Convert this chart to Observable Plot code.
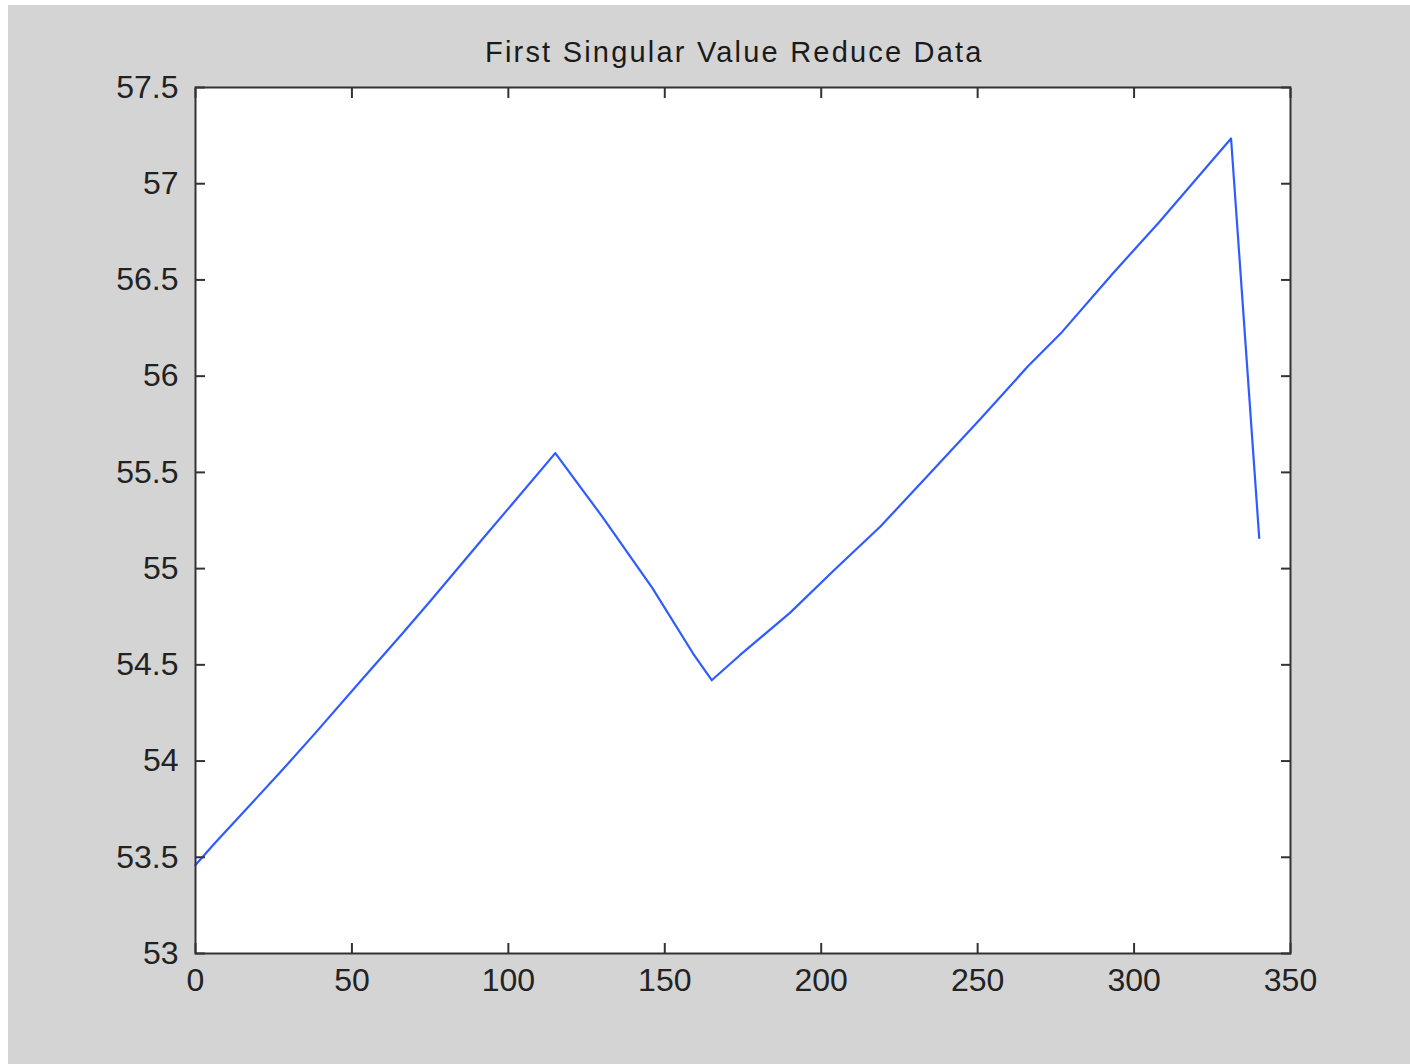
<!DOCTYPE html>
<html><head><meta charset="utf-8">
<script src="https://cdn.jsdelivr.net/npm/d3@7"></script>
<script src="https://cdn.jsdelivr.net/npm/@observablehq/plot@0.6"></script>
<style>
body{margin:0;background:#fff;width:1410px;height:1064px;overflow:hidden;position:relative;font-family:"Liberation Sans",Arial,sans-serif}
#bg{position:absolute;left:8px;top:5px;width:1402px;height:1059px;background:#d4d4d4}
#chart{position:absolute;left:0;top:0}
#title{position:absolute;left:485px;top:36px;font-size:29px;letter-spacing:2.2px;color:#1a1a1a;white-space:nowrap}
</style></head><body>
<div id="bg"></div><div id="chart"></div><div id="title">First Singular Value Reduce Data</div>
<script>
const sampleIndex   = [0, 6, 27, 38, 53, 66, 75, 91, 102, 115, 130, 146, 159, 165, 174, 190, 204, 219, 235, 251, 266, 277, 293, 308, 331, 340];
const singularValue = [53.46, 53.57, 53.94, 54.14, 54.42, 54.66, 54.83, 55.14, 55.35, 55.60, 55.27, 54.90, 54.56, 54.42, 54.55, 54.77, 54.99, 55.22, 55.50, 55.78, 56.05, 56.23, 56.53, 56.80, 57.235, 55.16];
const xTicks = [0, 50, 100, 150, 200, 250, 300, 350];
const yTicks = [53, 53.5, 54, 54.5, 55, 55.5, 56, 56.5, 57, 57.5];

const data = sampleIndex.map((x, i) => ({x, y: singularValue[i]}));
const fmt = d => String(d);

const chart = Plot.plot({
  width: 1410, height: 1064,
  marginLeft: 195, marginRight: 120, marginTop: 87, marginBottom: 111,
  style: {background: "transparent", fontFamily: "'Liberation Sans', Arial, sans-serif", fontSize: "32px", color: "#222"},
  x: {domain: [0, 350]},
  y: {domain: [53, 57.5]},
  marks: [
    Plot.frame({fill: "white"}),
    Plot.line(data, {x: "x", y: "y", stroke: "#2f5bff", strokeWidth: 2.2}),
    Plot.axisX(xTicks, {anchor: "bottom", tickSize: -10, tickPadding: 25, stroke: "#333", strokeWidth: 2, tickFormat: fmt, label: null}),
    Plot.axisX(xTicks, {anchor: "top", tickSize: -10, stroke: "#333", strokeWidth: 2, tickFormat: () => "", label: null}),
    Plot.axisY(yTicks, {anchor: "left", tickSize: -10, tickPadding: 27, stroke: "#333", strokeWidth: 2, tickFormat: fmt, label: null}),
    Plot.axisY(yTicks, {anchor: "right", tickSize: -10, stroke: "#333", strokeWidth: 2, tickFormat: () => "", label: null}),
    Plot.frame({stroke: "#333", strokeWidth: 2})
  ]
});
document.getElementById("chart").appendChild(chart);
</script>
</body></html>
